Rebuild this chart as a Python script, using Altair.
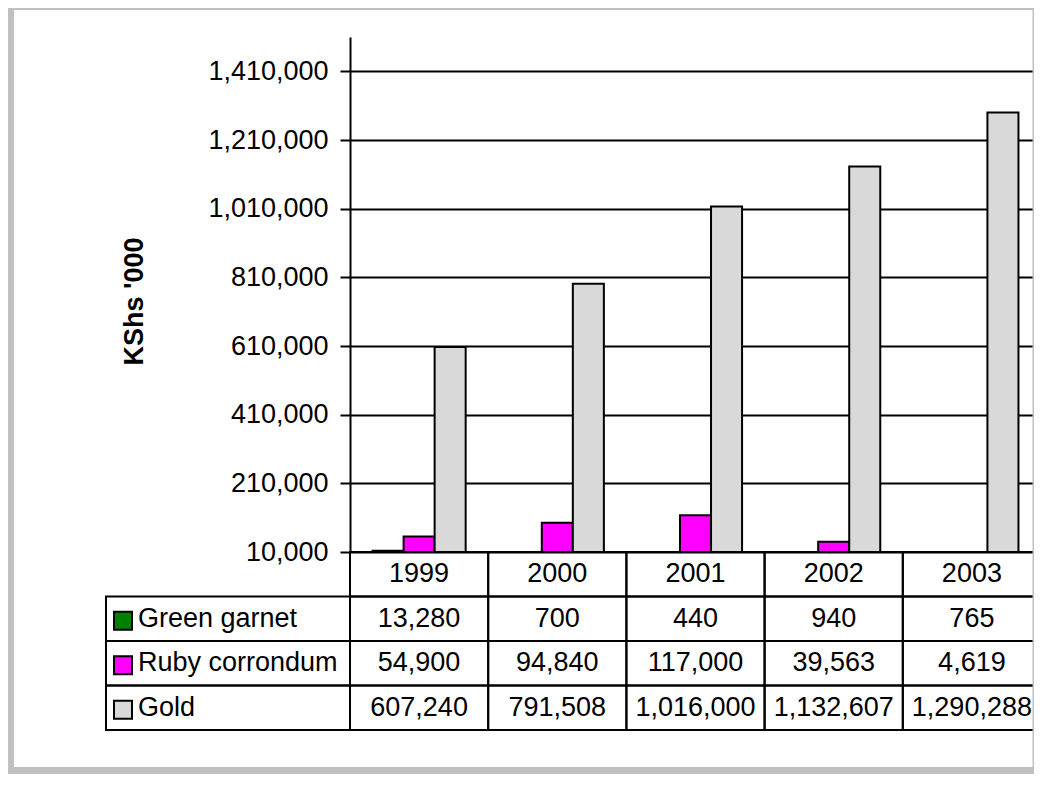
import altair as alt
import pandas as pd

# ---- data ----
years = ["1999", "2000", "2001", "2002", "2003"]
series = ["Green garnet", "Ruby corrondum", "Gold"]
green_garnet = [13280, 700, 440, 940, 765]
ruby_corrondum = [54900, 94840, 117000, 39563, 4619]
gold = [607240, 791508, 1016000, 1132607, 1290288]
colors = ["#008000", "#ff00ff", "#d9d9d9"]
y_ticks = [10000, 210000, 410000, 610000, 810000, 1010000, 1210000, 1410000]
y_title = "KShs '000"
header_key = "header"

values = {"Green garnet": green_garnet, "Ruby corrondum": ruby_corrondum, "Gold": gold}
df = pd.DataFrame(
    [{"year": y, "series": s, "value": values[s][i]} for s in series for i, y in enumerate(years)]
)
row_domain = [header_key] + series
cell_df = pd.DataFrame([{"year": y, "row": r} for r in row_domain for y in years])
hdr_df = pd.DataFrame({"year": years, "row": [header_key] * len(years)})
lab_df = pd.DataFrame({"series": series})
one_df = pd.DataFrame({"a": [0]})

FONT = "Liberation Sans"
FS = 27
W, H = 684, 693

x_scale = alt.Scale(type="band", domain=years, range=[0, 691], paddingInner=0, paddingOuter=0)
x_enc = alt.X("year:N", scale=x_scale, axis=None)
row_scale = alt.Scale(type="band", domain=row_domain, range=[515, 693], paddingInner=0, paddingOuter=0)
color_scale = alt.Scale(domain=series, range=colors)

bars = (
    alt.Chart(df)
    .transform_filter("datum.value > 10000")
    .mark_bar(stroke="black", strokeWidth=2)
    .encode(
        x=x_enc,
        xOffset=alt.XOffset(
            "series:N", sort=series,
            scale=alt.Scale(domain=series, paddingInner=0, paddingOuter=0.726),
        ),
        y=alt.Y(
            "value:Q",
            scale=alt.Scale(domain=[10000, 1510000], range=[515, 0], nice=False, zero=False),
            axis=alt.Axis(
                values=y_ticks, format=",.0f", title=y_title,
                grid=True, gridColor="black", gridWidth=2, gridOpacity=1,
                domainColor="black", domainWidth=2,
                tickColor="black", tickWidth=2, tickSize=10,
                labelFont=FONT, labelFontSize=FS, labelColor="black", labelPadding=12,
                titleFont=FONT, titleFontSize=FS, titleFontWeight="bold", titleColor="black",
                titleAngle=270, titleX=-208, titleY=264, titleAlign="center",
                titleBaseline="alphabetic",
            ),
        ),
        y2=alt.datum(10000),
        color=alt.Color("series:N", scale=color_scale, legend=None),
    )
)

cells = alt.Chart(cell_df).mark_rect(fillOpacity=0, stroke="black", strokeWidth=2).encode(
    x=x_enc, y=alt.Y("row:N", scale=row_scale, axis=None)
)

label_cells = alt.Chart(lab_df).mark_rect(fillOpacity=0, stroke="black", strokeWidth=2).encode(
    x=alt.value(-244), x2=alt.value(0), y=alt.Y("series:N", scale=row_scale, axis=None)
)

hdr_text = alt.Chart(hdr_df).mark_text(font=FONT, fontSize=FS, color="black", baseline="middle").encode(
    x=x_enc, y=alt.Y("row:N", scale=row_scale, axis=None), text="year:N"
)

val_text = alt.Chart(df).mark_text(font=FONT, fontSize=FS, color="black", baseline="middle").encode(
    x=x_enc,
    y=alt.Y("series:N", scale=row_scale, axis=None),
    text=alt.Text("value:Q", format=","),
)

keys = alt.Chart(lab_df).mark_square(size=324, stroke="black", strokeWidth=2, opacity=1, yOffset=2).encode(
    x=alt.value(-227),
    y=alt.Y("series:N", scale=row_scale, axis=None),
    color=alt.Color("series:N", scale=color_scale, legend=None),
)

label_text = alt.Chart(lab_df).mark_text(
    font=FONT, fontSize=FS, color="black", baseline="middle", align="left"
).encode(
    x=alt.value(-212),
    y=alt.Y("series:N", scale=row_scale, axis=None),
    text="series:N",
)

frame = alt.Chart(one_df).mark_rect(fillOpacity=0, stroke="#c0c0c0", strokeWidth=7).encode(
    x=alt.value(-339.5), x2=alt.value(686), y=alt.value(-30.5), y2=alt.value(733.5)
)

chart = (
    alt.layer(bars, cells, label_cells, hdr_text, val_text, keys, label_text, frame)
    .resolve_scale(y="independent")
    .properties(
        width=W,
        height=H,
        autosize=alt.AutoSizeParams(type="none"),
        padding={"left": 342, "top": 29, "right": 0, "bottom": 44},
        background="white",
    )
    .configure_view(strokeWidth=0)
)

chart.save("out.html", embed_options={"renderer": "svg", "actions": False})
